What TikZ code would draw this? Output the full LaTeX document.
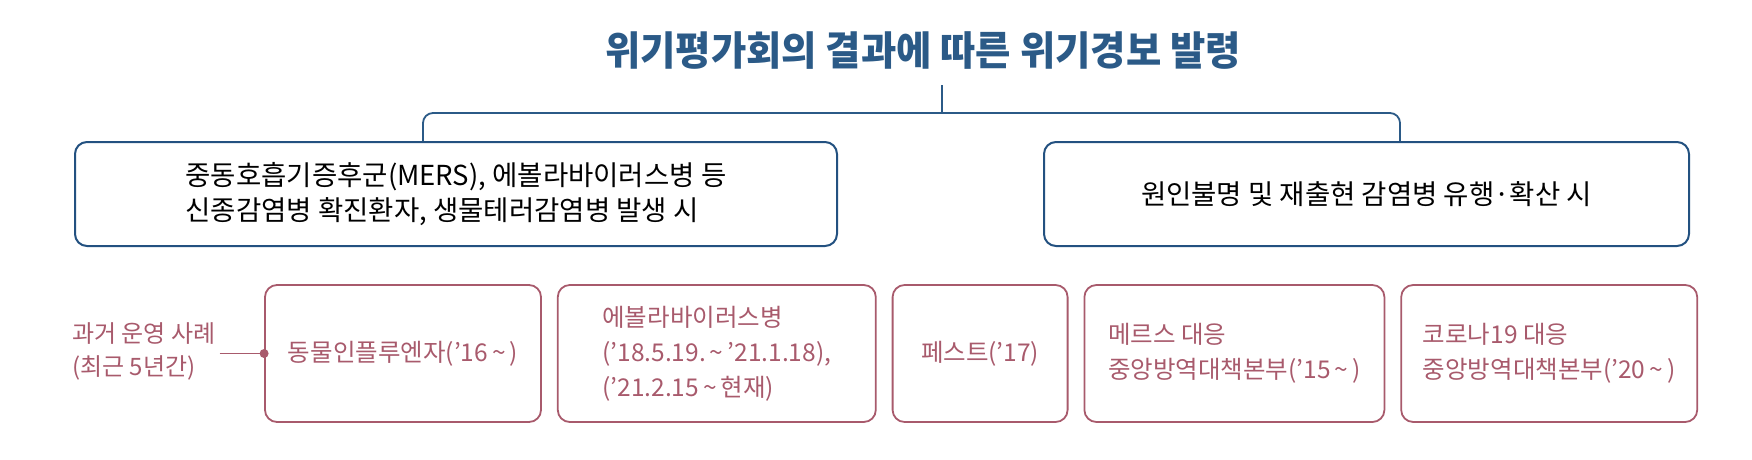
\documentclass[tikz,border=0pt]{standalone}
\usepackage{fontspec}
\setmainfont{Noto Sans CJK KR}
\newfontfamily\titlefont[FakeStretch=0.96]{Noto Sans CJK KR}
\usetikzlibrary{positioning}

\definecolor{titleblue}{HTML}{2B5A87}
\definecolor{boxblue}{HTML}{235180}
\definecolor{casered}{HTML}{A85A6C}
\newcommand\til{\,\textasciitilde\,} % 기간 표시 물결

\begin{document}
\begin{tikzpicture}[x=1pt,y=-1pt,
	topbox/.style={draw=boxblue,line width=2pt,rounded corners=12pt,fill=white,
		minimum height=104pt,inner sep=0pt,align=left,font=\fontsize{27.5}{35}\selectfont},
	casebox/.style={draw=casered,line width=1.8pt,rounded corners=12pt,
		minimum height=137pt,inner sep=0pt,align=left,text=casered,
		font=\fontsize{24.5}{35}\selectfont},
	bracket/.style={draw=titleblue,line width=1.8pt,rounded corners=10pt}]
	
	% 그림 크기
	\useasboundingbox (0,0) rectangle (1752,460);
	
	% 제목
	\node (title) at (923,51) {\titlefont\bfseries\fontsize{40}{42}\selectfont\color{titleblue}위기평가회의 결과에 따른 위기경보 발령};
	
	% 위기경보 발령 기준 상자
	\node[topbox,minimum width=762pt] (newbox) at (456,194) {중동호흡기증후군(MERS), 에볼라바이러스병 등\\신종감염병 확진환자, 생물테러감염병 발생 시};
	\node[topbox,minimum width=645pt] (unkbox) at (1366.5,194) {원인불명 및 재출현 감염병 유행·확산 시};
	
	% 제목에서 두 상자로 가는 선
	\coordinate (stem) at (942,85); % 제목 아래 세로선 시작점
	\coordinate (brL) at (423,113); % 왼쪽 모서리
	\coordinate (brR) at (1400,113); % 오른쪽 모서리
	\draw[bracket] (stem) -- (stem |- brL);
	\draw[bracket] (newbox.north -| brL) -- (brL) -- (brR) -- (unkbox.north -| brR);
	
	% 과거 운영 사례
	\node[casebox,minimum width=276pt] (flu) at (403,353.5) {동물인플루엔자('16\til{})};
	\node[casebox,minimum width=318pt,right=15pt of flu] (ebola) {에볼라바이러스병\\('18.5.19.\til{}'21.1.18),\\('21.2.15\til{}현재)};
	\node[casebox,minimum width=175pt,right=15pt of ebola] (plague) {페스트('17)};
	\node[casebox,minimum width=300pt,right=15pt of plague] (mers) {메르스 대응\\중앙방역대책본부('15\til{})};
	\node[casebox,minimum width=296pt,right=15pt of mers] (covid) {코로나19 대응\\중앙방역대책본부('20\til{})};
	
	% 왼쪽 설명과 연결선
	\node[anchor=west,inner sep=4pt,align=left,text=casered,font=\fontsize{24}{33}\selectfont] (past) at (68,351) {과거 운영 사례\\(최근 5년간)};
	\draw[casered,line width=1.8pt] (past.east |- flu.west) -- (flu.west);
	\fill[casered] (flu.west) circle (4.5pt); % 연결점
	
\end{tikzpicture}
\end{document}
